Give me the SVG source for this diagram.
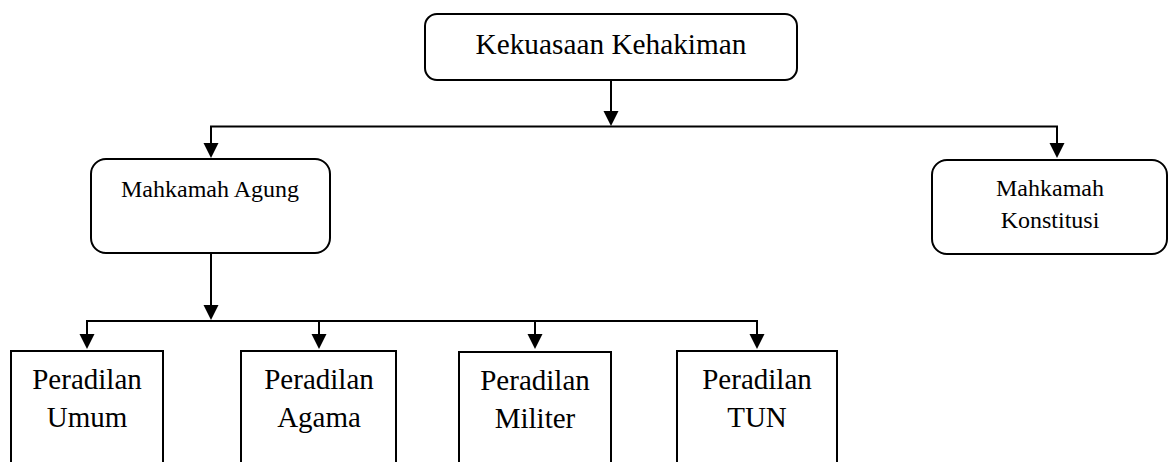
<svg xmlns="http://www.w3.org/2000/svg" width="1169" height="462" viewBox="0 0 1169 462">
<style>
.box{fill:#fff;stroke:#000;stroke-width:2}
.ln{fill:none;stroke:#000;stroke-width:2}
.t{fill:#000;text-anchor:middle;font-family:"Liberation Serif","Times New Roman",serif}
.big{font-size:29.3px}
.mid{font-size:24px}
.bot{font-size:29px}
</style>
<rect width="1169" height="462" fill="#fff"/>
<g id="connectors">
<line class="ln" x1="611" y1="80" x2="611" y2="112"/>
<polygon points="603.5,111 618.5,111 611,126"/>
<polyline class="ln" points="211,143 211,126.5 1057,126.5 1057,143"/>
<polygon points="203.5,143 218.5,143 211,158"/>
<polygon points="1049.5,143 1064.5,143 1057,158"/>
<line class="ln" x1="211" y1="253" x2="211" y2="306"/>
<polygon points="203.5,305 218.5,305 211,320"/>
<polyline class="ln" points="87,335 87,321 757,321 757,335"/>
<line class="ln" x1="319" y1="321" x2="319" y2="335"/>
<line class="ln" x1="535" y1="321" x2="535" y2="335"/>
<polygon points="79.5,334 94.5,334 87,349"/>
<polygon points="311.5,334 326.5,334 319,349"/>
<polygon points="527.5,334 542.5,334 535,349"/>
<polygon points="749.5,334 764.5,334 757,349"/>
</g>
<g id="kekuasaan">
<rect class="box" x="425" y="14" width="372" height="66" rx="12"/>
<text class="t big" x="611" y="54">Kekuasaan Kehakiman</text>
</g>
<g id="ma">
<rect class="box" x="91" y="159" width="239" height="94" rx="15"/>
<text class="t mid" x="210" y="197">Mahkamah Agung</text>
</g>
<g id="mk">
<rect class="box" x="932" y="160" width="235" height="94" rx="15"/>
<text class="t mid" x="1050" y="196">Mahkamah</text>
<text class="t mid" x="1050" y="228">Konstitusi</text>
</g>
<g id="umum">
<rect class="box" x="11" y="351" width="152" height="130"/>
<text class="t bot" x="87" y="389">Peradilan</text>
<text class="t bot" x="87" y="427">Umum</text>
</g>
<g id="agama">
<rect class="box" x="241" y="351" width="155" height="130"/>
<text class="t bot" x="319" y="389">Peradilan</text>
<text class="t bot" x="319" y="427">Agama</text>
</g>
<g id="militer">
<rect class="box" x="459" y="352" width="152" height="130"/>
<text class="t bot" x="535" y="390">Peradilan</text>
<text class="t bot" x="535" y="428">Militer</text>
</g>
<g id="tun">
<rect class="box" x="677" y="351" width="160" height="130"/>
<text class="t bot" x="757" y="389">Peradilan</text>
<text class="t bot" x="757" y="427">TUN</text>
</g>
</svg>
